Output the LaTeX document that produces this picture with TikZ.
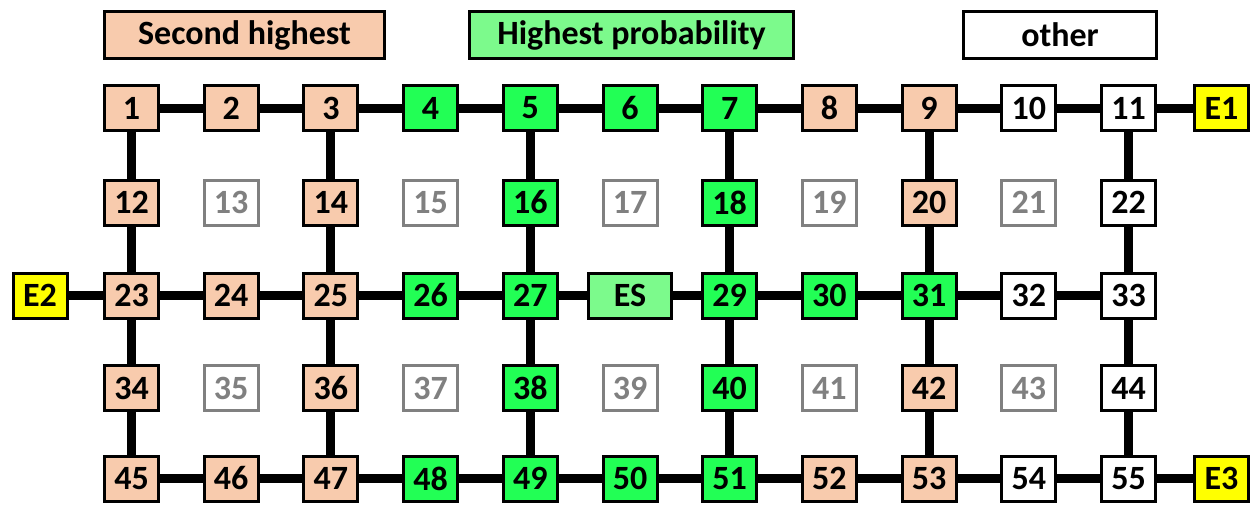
\documentclass[tikz,border=0pt]{standalone}
\usepackage{fontspec}
\setmainfont{Carlito}
\definecolor{peach}{HTML}{F8CBAD}
\definecolor{hot}{HTML}{22FF55}
\definecolor{mild}{HTML}{7CFA8C}
\definecolor{exitc}{HTML}{FFFF00}
\definecolor{dim}{HTML}{808080}
\begin{document}
\begin{tikzpicture}[x=1pt,y=-1pt,
  cell/.style={draw=black, line width=3pt, minimum width=54pt, minimum height=45pt,
    inner sep=0pt, font=\fontsize{34}{36}\selectfont\bfseries},
  pk/.style={cell, fill=peach},
  gn/.style={cell, fill=hot},
  wt/.style={cell, fill=white},
  gy/.style={cell, draw=dim, text=dim, fill=white},
  ex/.style={cell, fill=exitc},
  es/.style={cell, fill=mild, minimum width=83pt},
  legend/.style={cell, minimum height=47pt},
  link/.style={line width=9pt}
]
\useasboundingbox (0,0) rectangle (1252,504);

% legend
\node[legend, fill=peach, minimum width=280pt] (lsec) at (244.5,35) {Second highest};
\node[legend, fill=mild, minimum width=324pt] (lhigh) at (631.5,35) {Highest probability};
\node[legend, fill=white, minimum width=193pt] (loth) at (1060,35) {other};

% grid of cells
\def\xc#1{131.5+99.7*#1}
\foreach \n/\s [count=\c from 0] in {1/pk,2/pk,3/pk,4/gn,5/gn,6/gn,7/gn,8/pk,9/pk,10/wt,11/wt}
  \node[\s] (n\n) at ({\xc{\c}},108) {\n};
\foreach \n/\s [count=\c from 0] in {12/pk,13/gy,14/pk,15/gy,16/gn,17/gy,18/gn,19/gy,20/pk,21/gy,22/wt}
  \node[\s] (n\n) at ({\xc{\c}},202.5) {\n};
\foreach \n/\s [count=\c from 0] in {23/pk,24/pk,25/pk,26/gn,27/gn,ES/es,29/gn,30/gn,31/gn,32/wt,33/wt}
  \node[\s] (n\n) at ({\xc{\c}},295.5) {\n};
\foreach \n/\s [count=\c from 0] in {34/pk,35/gy,36/pk,37/gy,38/gn,39/gy,40/gn,41/gy,42/pk,43/gy,44/wt}
  \node[\s] (n\n) at ({\xc{\c}},388) {\n};
\foreach \n/\s [count=\c from 0] in {45/pk,46/pk,47/pk,48/gn,49/gn,50/gn,51/gn,52/pk,53/pk,54/wt,55/wt}
  \node[\s] (n\n) at ({\xc{\c}},478.5) {\n};

% exits
\node[ex] (e1) at (1221.5,108) {E1};
\node[ex] (e2) at (40,295.5) {E2};
\node[ex] (e3) at (1221.5,478.5) {E3};

% horizontal corridors
\foreach \a/\b in {1/2,2/3,3/4,4/5,5/6,6/7,7/8,8/9,9/10,10/11,
  23/24,24/25,25/26,26/27,27/ES,ES/29,29/30,30/31,31/32,32/33,
  45/46,46/47,47/48,48/49,49/50,50/51,51/52,52/53,53/54,54/55}
  \draw[link] (n\a) -- (n\b);
\draw[link] (n11) -- (e1);
\draw[link] (e2) -- (n23);
\draw[link] (n55) -- (e3);

% vertical corridors
\foreach \t/\u/\m/\l/\b in {1/12/23/34/45, 3/14/25/36/47, 5/16/27/38/49,
  7/18/29/40/51, 9/20/31/42/53, 11/22/33/44/55}{
  \draw[link] (n\t) -- (n\u);
  \draw[link] (n\u) -- (n\m);
  \draw[link] (n\m) -- (n\l);
  \draw[link] (n\l) -- (n\b);
}
\end{tikzpicture}
\end{document}
